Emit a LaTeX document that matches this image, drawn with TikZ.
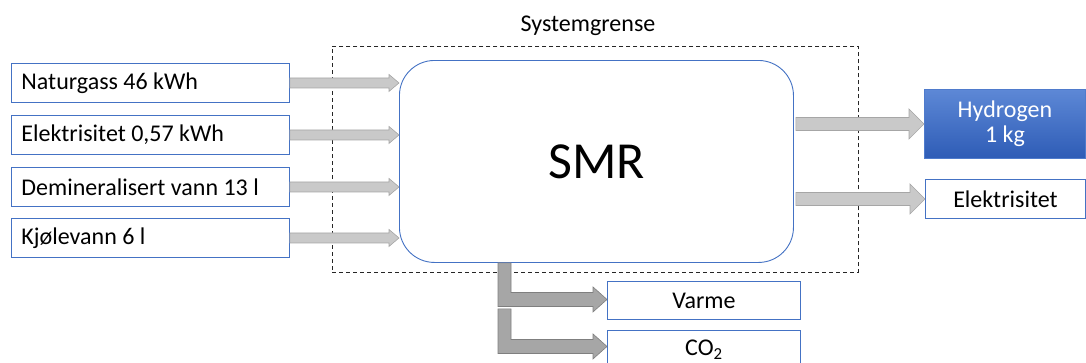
\documentclass[tikz,border=0pt]{standalone}
\usepackage{fontspec}
\setmainfont{Carlito}
\usetikzlibrary{calc}

\definecolor{boxblue}{HTML}{4472C4}
\definecolor{flowfill}{HTML}{C9C9C9}
\definecolor{flowline}{HTML}{A6A6A6}
\definecolor{bentfill}{HTML}{A6A6A6}
\definecolor{bentline}{HTML}{7F7F7F}
\definecolor{hydtop}{HTML}{5D88D6}
\definecolor{hydbot}{HTML}{2E5CB6}

\tikzset{
  txt/.style={font=\fontsize{24}{28}\selectfont},
  inbox/.style={txt, draw=boxblue, line width=0.9pt, fill=white, anchor=north west,
    inner xsep=10pt, inner ysep=0pt, minimum height=39pt},
  outbox/.style={txt, draw=boxblue, line width=0.9pt, fill=white, anchor=north west,
    inner sep=0pt, align=center},
  flow/.style={fill=flowfill, draw=flowline, line width=0.6pt, line join=miter},
  bentflow/.style={fill=bentfill, draw=bentline, line width=0.6pt, line join=miter},
}

% left-aligned label of fixed width inside an input box
\newcommand{\inlabel}[1]{\makebox[258pt][l]{#1}}

% straight block arrow: style, start, end, shaft half width, head half width, head length
\newcommand{\flowarrow}[6]{%
  \filldraw[#1] let \p1=#2, \p2=#3 in
    (\x1,\y1+#4) -- (\x2-#6,\y1+#4) -- (\x2-#6,\y1+#5) -- (\x2,\y1)
    -- (\x2-#6,\y1-#5) -- (\x2-#6,\y1-#4) -- (\x1,\y1-#4) -- cycle;}

% bent block arrow going down from a tap point, then right to a box
\newcommand{\bentarrow}[2]{%
  \filldraw[bentflow] let \p1=#1, \p2=#2 in
    (\x1-6.5pt,\y1) -- (\x1-6.5pt,\y2-7pt) -- (\x2-14pt,\y2-7pt) -- (\x2-14pt,\y2-12.5pt)
    -- (\x2,\y2) -- (\x2-14pt,\y2+12.5pt) -- (\x2-14pt,\y2+7pt) -- (\x1+6.5pt,\y2+7pt)
    -- (\x1+6.5pt,\y1) -- cycle;}

\begin{document}
\begin{tikzpicture}[x=1pt,y=-1pt]
\useasboundingbox (0,0) rectangle (1086,362);
\clip (0,0) rectangle (1086,362);

% system boundary
\node[draw=black!85, dashed, dash pattern=on 4pt off 3pt, line width=0.9pt,
  minimum width=526pt, minimum height=226pt, inner sep=0pt, anchor=north west]
  (sysbound) at (332,46) {};
\node[txt] (syslabel) at (588,26) {Systemgrense};

% process
\node[draw=boxblue, line width=0.9pt, rounded corners=35pt, fill=white,
  minimum width=394pt, minimum height=202pt, inner sep=0pt, anchor=north west,
  font=\fontsize{52}{60}\selectfont] (smr) at (399,60) {SMR};

% inputs
\node[inbox] (nat) at (11,63)  {\inlabel{Naturgass 46 kWh}};
\node[inbox] (el)  at (11,115) {\inlabel{Elektrisitet 0,57 kWh}};
\node[inbox] (dem) at (11,167) {\inlabel{Demineralisert vann 13 l}};
\node[inbox] (kj)  at (11,218) {\inlabel{Kjølevann 6 l}};

% outputs
\node[outbox, draw=hydtop!70!hydbot, top color=hydtop, bottom color=hydbot, text=white,
  minimum width=161pt, minimum height=69pt] (hyd) at (924,89) {Hydrogen\\[-3pt]1 kg};
\node[outbox, minimum width=160pt, minimum height=39pt] (elout) at (925,179) {Elektrisitet};
\node[outbox, minimum width=193pt, minimum height=38pt] (varme) at (607,281) {Varme};
\node[outbox, minimum width=193pt, minimum height=38pt] (co2) at (607,330) {CO\textsubscript{2}};

% input flows
\foreach \b in {nat,el,dem,kj}
  \flowarrow{flow}{(\b.east)}{(smr.west)}{5pt}{8.5pt}{10pt};

% output flows
\flowarrow{flow}{([xshift=2pt]smr.east |- hyd.west)}{(hyd.west)}{6.5pt}{15pt}{15pt};
\flowarrow{flow}{([xshift=2pt]smr.east |- elout.west)}{(elout.west)}{6.5pt}{15pt}{15pt};

% residual flows
\coordinate (tap1) at ([xshift=105.5pt]smr.south west);
\coordinate (tap2) at ([yshift=-46pt]tap1);
\bentarrow{(tap1)}{([yshift=1pt]varme.west)}
\bentarrow{(tap2)}{([yshift=3pt]co2.west)}
\end{tikzpicture}
\end{document}
